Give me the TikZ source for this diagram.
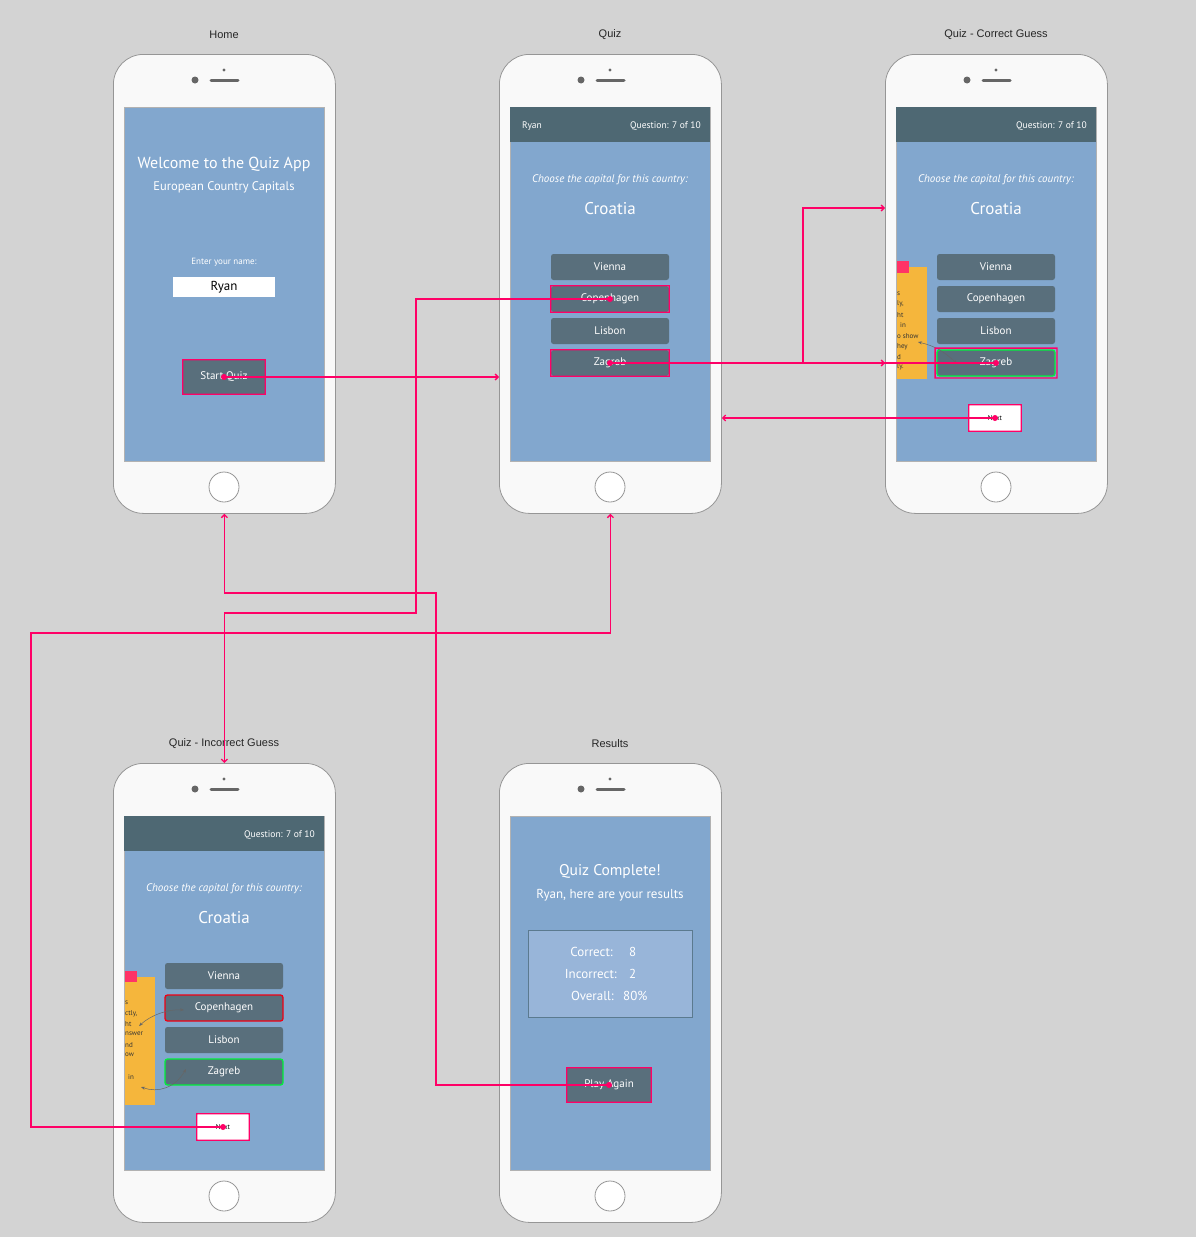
\documentclass[tikz,border=0pt]{standalone}
\usepackage{fontspec}
\setmainfont{PT Sans}
\newfontfamily\titlefont{Liberation Sans}
\usetikzlibrary{arrows.meta}
\definecolor{bgc}{RGB}{211,211,211}
\definecolor{phonefill}{RGB}{249,249,249}
\definecolor{phoneedge}{RGB}{150,150,150}
\definecolor{scr}{RGB}{130,167,206}
\definecolor{hdr}{RGB}{78,104,115}
\definecolor{btnc}{RGB}{89,111,124}
\definecolor{linkc}{RGB}{255,0,102}
\definecolor{notec}{RGB}{245,182,60}
\definecolor{notered}{RGB}{255,51,102}
\definecolor{okgreen}{RGB}{0,240,60}
\definecolor{badred}{RGB}{240,0,20}
\definecolor{boxfill}{RGB}{152,181,217}
\definecolor{boxedge}{RGB}{91,122,143}
\definecolor{camc}{RGB}{102,102,102}
\newcommand\fsz[1]{\fontsize{#1}{#1}\selectfont}
\newcommand\phonedev[3]{%
\begin{scope}[shift={(#2,#3)}]
\node[phone, anchor=north west] (#1) at (0,0) {};
\node[screenbox, anchor=north west] (#1scr) at (11,53) {};
\fill[camc] (82,26) circle (3.5pt);
\fill[camc] (111,16) circle (1.6pt);
\draw[camc, line width=3pt, line cap=round] (98,26) -- (125,26);
\node[homebtn] (#1hb) at (111,433) {};
\end{scope}}
% pink hotspot frame drawn as a filled ring around a node (#2 = extra margin)
\newcommand\hotframe[2]{%
\fill[linkc, even odd rule]
  ([shift={(-#2-0.65,#2+0.65)}]#1.south west) rectangle ([shift={(#2+0.65,-#2-0.65)}]#1.north east)
  ([shift={(-#2+0.65,#2-0.65)}]#1.south west) rectangle ([shift={(#2-0.65,-#2+0.65)}]#1.north east);}
\begin{document}
\begin{tikzpicture}[x=1pt,y=-1pt,
  phone/.style={draw=phoneedge, fill=phonefill, rounded corners=30pt, minimum width=222pt, minimum height=459pt, inner sep=0pt, line width=0.8pt},
  screenbox/.style={draw=black!30, fill=scr, minimum width=200pt, minimum height=354pt, inner sep=0pt, line width=0.5pt},
  homebtn/.style={circle, draw=phoneedge, fill=white, minimum size=30pt, inner sep=0pt, line width=0.8pt},
  ttl/.style={font=\titlefont\fsz{11}, text=black!85},
  wt/.style={text=white, inner sep=0pt},
  btn/.style={fill=btnc, rounded corners=2.5pt, minimum width=118pt, minimum height=26pt, text=white, font=\fsz{11}, inner sep=0pt},
  flatbtn/.style={fill=btnc, text=white, font=\fsz{11}, inner sep=0pt},
  nextbtn/.style={fill=white, minimum width=52pt, minimum height=26pt, font=\fsz{7}, inner sep=0pt},
  notetxt/.style={font=\fsz{7}, text=black!80, inner sep=0pt, anchor=west},
  notearrow/.style={draw=black!60, line width=0.5pt, {Stealth[length=4pt,width=3pt]}-{Stealth[length=4pt,width=3pt]}},
  link/.style={draw=linkc, line width=1.3pt, -{Straight Barb[length=3pt,width=6pt]}},
  linkdot/.style={fill=linkc}
]
\fill[bgc] (0,0) rectangle (1196,1237);
\useasboundingbox (0,0) rectangle (1196,1237);

% titles
\node[ttl] (tHome) at (224,35) {Home};
\node[ttl] (tQuiz) at (610,35) {Quiz};
\node[ttl] (tCorrect) at (996,35) {Quiz - Correct Guess};
\node[ttl] (tIncorrect) at (224,744) {Quiz - Incorrect Guess};
\node[ttl] (tResults) at (610,744) {Results};

% phones
\phonedev{home}{113}{54}
\phonedev{quiz}{499}{54}
\phonedev{correct}{885}{54}
\phonedev{incorrect}{113}{763}
\phonedev{results}{499}{763}

% ---------- Home screen
\begin{scope}[shift={(113,54)}]
\node[wt, font=\fsz{16}] (welcome) at (111,110.5) {Welcome to the Quiz App};
\node[wt, font=\fsz{12.5}] (subtitle) at (111,133) {European Country Capitals};
\node[wt, font=\fsz{9}] (enter) at (111,208) {Enter your name:};
\node[fill=white, minimum width=102pt, minimum height=20pt, inner sep=0pt, font=\fsz{13}] (namebox) at (111,233) {Ryan};
\node[flatbtn, minimum width=82pt, minimum height=34pt] (startq) at (111,323) {Start Quiz};
\end{scope}
\hotframe{startq}{0}

% ---------- Quiz screen
\begin{scope}[shift={(499,54)}]
\fill[hdr] (11,53) rectangle (211,88);
\node[wt, font=\fsz{9.5}, anchor=west] (qname) at (23,72) {Ryan};
\node[wt, font=\fsz{9.5}, anchor=east] (qnum) at (202,72) {Question: 7 of 10};
\node[wt, font=\fsz{11}\itshape] (qask) at (111,126) {Choose the capital for this country:};
\node[wt, font=\fsz{17}] (qcountry) at (111,155) {Croatia};
\node[btn] (qvie) at (111,213) {Vienna};
\node[btn] (qcop) at (111,245) {Copenhagen};
\node[btn] (qlis) at (111,277) {Lisbon};
\node[btn] (qzag) at (111,309) {Zagreb};
\end{scope}
\hotframe{qcop}{0}
\hotframe{qzag}{0}

% ---------- Correct guess screen
\begin{scope}[shift={(885,54)}]
\fill[hdr] (11,53) rectangle (211,88);
\node[wt, font=\fsz{9.5}, anchor=east] (cnum) at (202,72) {Question: 7 of 10};
\node[wt, font=\fsz{11}\itshape] (cask) at (111,126) {Choose the capital for this country:};
\node[wt, font=\fsz{17}] (ccountry) at (111,155) {Croatia};
\node[btn] (cvie) at (111,213) {Vienna};
\node[btn] (ccop) at (111,245) {Copenhagen};
\node[btn] (clis) at (111,277) {Lisbon};
\node[btn, draw=okgreen, line width=1.2pt] (czag) at (111,309) {Zagreb};
\fill[notec] (12,213) rectangle (42,325);
\fill[notered] (12,207) rectangle (24,219);
\node[notetxt] (cn1) at (12,240) {s};
\node[notetxt] (cn2) at (12,250) {ly,};
\node[notetxt] (cn3) at (12,261) {ht};
\node[notetxt] (cn4) at (15,271) {in};
\node[notetxt] (cn5) at (12,282) {o show};
\node[notetxt] (cn6) at (12,293) {hey};
\node[notetxt] (cn7) at (12,303) {d};
\node[notetxt] (cn8) at (12,313) {ly.};
\draw[notearrow] (33,288) .. controls (50,292) and (60,298) .. (72,310);
\node[nextbtn] (cnext) at (110,364) {Next};
\end{scope}
\hotframe{czag}{1.3}
\hotframe{cnext}{0}

% ---------- Incorrect guess screen
\begin{scope}[shift={(113,763)}]
\fill[hdr] (11,53) rectangle (211,88);
\node[wt, font=\fsz{9.5}, anchor=east] (inum) at (202,72) {Question: 7 of 10};
\node[wt, font=\fsz{11}\itshape] (iask) at (111,126) {Choose the capital for this country:};
\node[wt, font=\fsz{17}] (icountry) at (111,155) {Croatia};
\node[btn] (ivie) at (111,213) {Vienna};
\node[btn, draw=badred, line width=1.3pt] (icop) at (111,245) {Copenhagen};
\node[btn] (ilis) at (111,277) {Lisbon};
\node[btn, draw=okgreen, line width=1.3pt] (izag) at (111,309) {Zagreb};
\fill[notec] (12,214) rectangle (42,342);
\fill[notered] (12,208) rectangle (24,219);
\node[notetxt] (in1) at (12,240) {s};
\node[notetxt] (in2) at (12,251) {ctly,};
\node[notetxt] (in3) at (12,261) {ht};
\node[notetxt] (in4) at (12,271) {nswer};
\node[notetxt] (in5) at (12,282) {nd};
\node[notetxt] (in6) at (12,292) {ow};
\node[notetxt] (in7) at (15,314) {in};
\draw[notearrow] (26,263) .. controls (38,252) and (55,246) .. (71,247);
\draw[notearrow] (28,324) .. controls (45,330) and (62,325) .. (73,306);
\node[nextbtn] (inext) at (110,364) {Next};
\end{scope}
\hotframe{inext}{0}

% ---------- Results screen
\begin{scope}[shift={(499,763)}]
\node[wt, font=\fsz{15.5}] (rdone) at (111,109) {Quiz Complete!};
\node[wt, font=\fsz{13}] (rsub) at (111,132) {Ryan, here are your results};
\node[fill=boxfill, draw=boxedge, line width=0.8pt, minimum width=164pt, minimum height=87pt, inner sep=0pt] (rbox) at (111,210.5) {};
\node[wt, font=\fsz{13}, anchor=east] (rl1) at (114,189) {Correct:};
\node[wt, font=\fsz{13}, anchor=west] (rv1) at (130,189) {8};
\node[wt, font=\fsz{13}, anchor=east] (rl2) at (118,211) {Incorrect:};
\node[wt, font=\fsz{13}, anchor=west] (rv2) at (130,211) {2};
\node[wt, font=\fsz{13}, anchor=east] (rl3) at (115,233) {Overall:};
\node[wt, font=\fsz{13}, anchor=west] (rv3) at (124,233) {80\%};
\node[flatbtn, minimum width=84pt, minimum height=34pt] (again) at (110,322) {Play Again};
\end{scope}
\hotframe{again}{0}

% ---------- connectors
\coordinate (jcop) at (416,613);
\coordinate (jself) at (803,208);
\coordinate (jnext) at (31,633);
\coordinate (jagain) at (436,593);

\draw[link] (startq.center) -- (startq.center -| quiz.west);
\draw[link] (qcop.center) -| (jcop) -| (incorrect.north);
\draw[link] (qzag.center) -- (qzag.center -| correct.west);
\draw[link] (czag.center) -| (jself) -- (jself -| correct.west);
\draw[link] (cnext.center) -- (cnext.center -| quiz.east);
\draw[link] (inext.center) -| (jnext) -| (quiz.south);
\draw[link] (again.center) -| (jagain) -| (home.south);

\fill[linkdot] (startq.center) circle (3pt);
\fill[linkdot] (qcop.center) circle (3pt);
\fill[linkdot] (qzag.center) circle (3pt);
\fill[linkdot] (czag.center) circle (3pt);
\fill[linkdot] (cnext.center) circle (3pt);
\fill[linkdot] (inext.center) circle (3pt);
\fill[linkdot] (again.center) circle (3pt);
\end{tikzpicture}
\end{document}
